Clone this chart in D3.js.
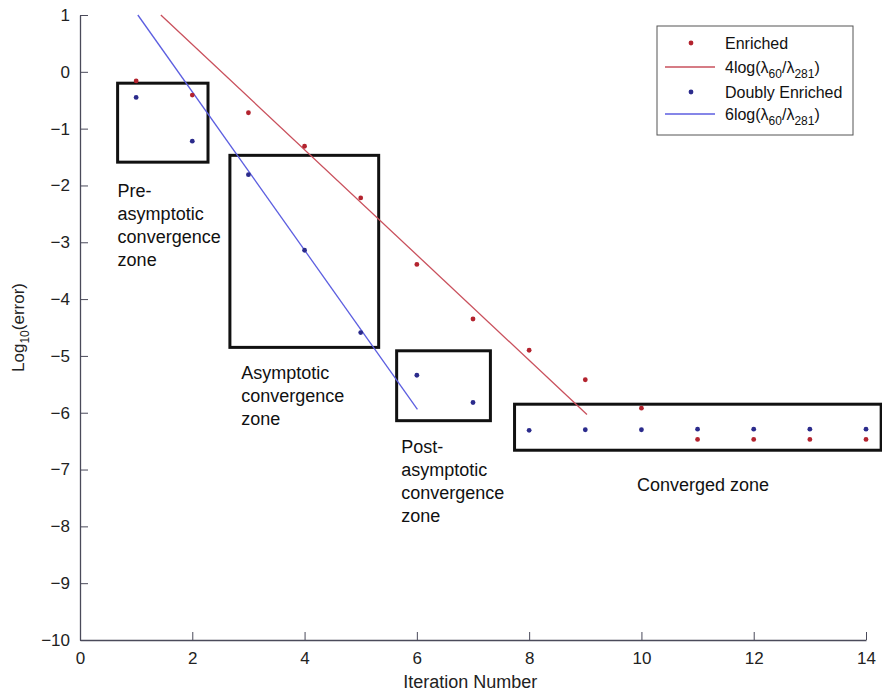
<!DOCTYPE html>
<html>
<head>
<meta charset="utf-8">
<script src="https://cdn.jsdelivr.net/npm/d3@7"></script>
<style>
  body { margin: 0; background: #fff; }
  svg { font-family: "Liberation Sans", Arial, sans-serif; }
</style>
</head>
<body>
<div id="chart"></div>
<script>
// data
let iterations = [1, 2, 3, 4, 5, 6, 7, 8, 9, 10, 11, 12, 13, 14];
let enriched = [-0.16, -0.41, -0.72, -1.31, -2.22, -3.39, -4.35, -4.90, -5.42, -5.92, -6.47, -6.47, -6.47, -6.47];
let doublyEnriched = [-0.45, -1.22, -1.81, -3.14, -4.59, -5.34, -5.82, -6.31, -6.30, -6.30, -6.29, -6.29, -6.29, -6.29];

// fitted slopes (endpoints of the drawn lines)
let fit4X = [1.44, 9.03];
let fit4Y = [1, -6.03];
let fit6X = [1.03, 6.01];
let fit6Y = [1, -5.94];

// zone boxes: [x0, x1, y0, y1]
let zones = [
  [0.67, 2.28, -0.20, -1.59],
  [2.67, 5.32, -1.47, -4.85],
  [5.64, 7.31, -4.91, -6.14],
  [7.74, 14.27, -5.85, -6.66]
];
let zoneLabels = [
  {x: 0.67, y: -2.20, lines: ["Pre-", "asymptotic", "convergence", "zone"]},
  {x: 2.87, y: -5.41, lines: ["Asymptotic", "convergence", "zone"]},
  {x: 5.72, y: -6.71, lines: ["Post-", "asymptotic", "convergence", "zone"]},
  {x: 9.92, y: -7.37, lines: ["Converged zone"]}
];

let xTicks = [0, 2, 4, 6, 8, 10, 12, 14];
let yTicks = [1, 0, -1, -2, -3, -4, -5, -6, -7, -8, -9, -10];

let width = 882, height = 694;
let margin = {left: 80, right: 16, top: 15, bottom: 54};

let redDot = "#b3232e", redLine = "#c9505c";
let blueDot = "#2b2b8c", blueLine = "#5c5ee0";

let x = d3.scaleLinear().domain([0, 14]).range([margin.left, width - margin.right]);
let y = d3.scaleLinear().domain([-10, 1]).range([height - margin.bottom, margin.top]);

let svg = d3.select("#chart").append("svg")
  .attr("width", width)
  .attr("height", height);

// axes
let axeX = d3.axisBottom(x).tickValues(xTicks).tickSizeInner(-8).tickSizeOuter(0).tickPadding(12);
let axeY = d3.axisLeft(y).tickValues(yTicks).tickSizeInner(-8).tickSizeOuter(0).tickPadding(10);

let gx = svg.append("g")
  .attr("transform", `translate(0,${height - margin.bottom})`)
  .call(axeX);
let gy = svg.append("g")
  .attr("transform", `translate(${margin.left},0)`)
  .call(axeY);

[gx, gy].forEach(g => {
  g.select(".domain").attr("stroke", "#4a4a5a").attr("stroke-width", 1.3);
  g.selectAll(".tick line").attr("stroke", "#4a4a5a");
  g.selectAll(".tick text").attr("font-size", 17).attr("fill", "#222")
    .attr("font-family", "Liberation Sans, Arial, sans-serif");
});

svg.append("text")
  .attr("x", x(6.95))
  .attr("y", height - 6)
  .attr("text-anchor", "middle")
  .attr("font-size", 18)
  .attr("fill", "#222")
  .text("Iteration Number");

let ylab = svg.append("text")
  .attr("transform", `translate(24,${y(-4.5)}) rotate(-90)`)
  .attr("text-anchor", "middle")
  .attr("font-size", 17)
  .attr("fill", "#222");
ylab.append("tspan").text("Log");
ylab.append("tspan").attr("dy", 5).attr("font-size", 12).text("10");
ylab.append("tspan").attr("dy", -5).text("(error)");

// zone boxes
svg.selectAll("rect.zone")
  .data(zones)
  .enter()
  .append("rect")
    .attr("class", "zone")
    .attr("x", d => x(d[0]))
    .attr("y", d => y(d[2]))
    .attr("width", d => x(d[1]) - x(d[0]))
    .attr("height", d => y(d[3]) - y(d[2]))
    .attr("fill", "none")
    .attr("stroke", "#111")
    .attr("stroke-width", 3);

// zone labels
zoneLabels.forEach(z => {
  let t = svg.append("text")
    .attr("x", x(z.x))
    .attr("y", y(z.y))
    .attr("font-size", 18)
    .attr("fill", "#111");
  z.lines.forEach((l, i) => {
    t.append("tspan").attr("x", x(z.x)).attr("dy", i == 0 ? 0 : 23).text(l);
  });
});

// fitted lines
let line = d3.line().x(d => x(d[0])).y(d => y(d[1]));
svg.append("path")
  .datum(d3.zip(fit4X, fit4Y))
  .attr("d", line)
  .attr("fill", "none")
  .attr("stroke", redLine)
  .attr("stroke-width", 1.3);
svg.append("path")
  .datum(d3.zip(fit6X, fit6Y))
  .attr("d", line)
  .attr("fill", "none")
  .attr("stroke", blueLine)
  .attr("stroke-width", 1.3);

// points
svg.selectAll("circle.enr")
  .data(d3.zip(iterations, enriched))
  .enter()
  .append("circle")
    .attr("class", "enr")
    .attr("cx", d => x(d[0]))
    .attr("cy", d => y(d[1]))
    .attr("r", 2.4)
    .attr("fill", redDot);

svg.selectAll("circle.dbl")
  .data(d3.zip(iterations, doublyEnriched))
  .enter()
  .append("circle")
    .attr("class", "dbl")
    .attr("cx", d => x(d[0]))
    .attr("cy", d => y(d[1]))
    .attr("r", 2.4)
    .attr("fill", blueDot);

// legend
let lg = svg.append("g").attr("transform", "translate(657,26)");
lg.append("rect")
  .attr("width", 196).attr("height", 109)
  .attr("fill", "#fff").attr("stroke", "#555").attr("stroke-width", 1);

let rows = [
  {type: "dot", color: redDot, y: 17, label: ["Enriched"]},
  {type: "line", color: redLine, y: 41, label: ["4log(λ", "60", "/λ", "281", ")"]},
  {type: "dot", color: blueDot, y: 66, label: ["Doubly Enriched"]},
  {type: "line", color: blueLine, y: 88, label: ["6log(λ", "60", "/λ", "281", ")"]}
];
rows.forEach(r => {
  if (r.type == "dot") {
    lg.append("circle").attr("cx", 34).attr("cy", r.y).attr("r", 2.4).attr("fill", r.color);
  } else {
    lg.append("line").attr("x1", 8).attr("x2", 58).attr("y1", r.y).attr("y2", r.y)
      .attr("stroke", r.color).attr("stroke-width", 1.3);
  }
  let t = lg.append("text").attr("x", 68).attr("y", r.y + 6).attr("font-size", 16).attr("fill", "#111");
  r.label.forEach((s, i) => {
    let sp = t.append("tspan").text(s);
    if (i % 2 == 1) sp.attr("dy", 5).attr("font-size", 12);
    else if (i > 0) sp.attr("dy", -5);
  });
});
</script>
</body>
</html>
